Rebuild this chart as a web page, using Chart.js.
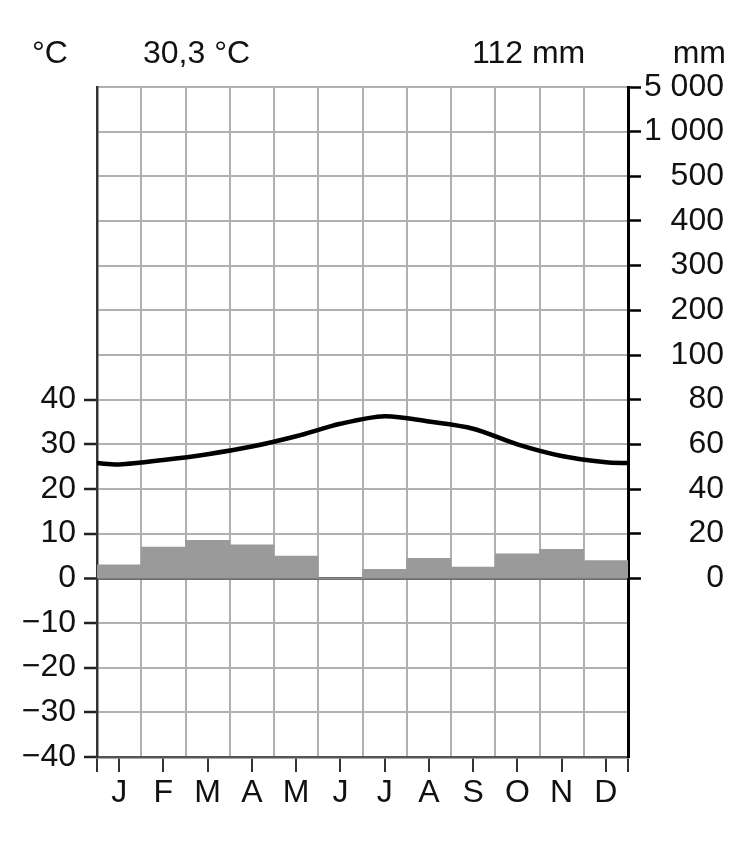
<!DOCTYPE html>
<html>
<head>
<meta charset="utf-8">
<script src="https://cdn.jsdelivr.net/npm/chart.js@4.4.1/dist/chart.umd.min.js"></script>
<style>
  html, body { margin: 0; padding: 0; background: #fff; }
  #wrap { width: 748px; height: 848px; position: relative; }
</style>
</head>
<body>
<div id="wrap"><canvas id="climate-chart"></canvas></div>
<script>
// climate data
const months = ['J', 'F', 'M', 'A', 'M', 'J', 'J', 'A', 'S', 'O', 'N', 'D'];
const temperature = [25.5, 26.5, 27.8, 29.5, 31.8, 34.6, 36.3, 35.1, 33.5, 30.0, 27.4, 26.0];
const temperatureEdge = 25.8; // value where the curve meets both side axes
const precipitation = [6, 14, 17, 15, 10, 0, 4, 9, 5, 11, 13, 8];
const meanTemperature = '30,3 °C';
const totalPrecipitation = '112 mm';
// right axis: linear up to 100 mm, compressed above
const mmTickLabels = { 120: '200', 140: '300', 160: '400', 180: '500', 200: '1 000', 220: '5 000' };

const GRID = '#b0b0b0';
const INK = '#111';
const FONT = '"Liberation Sans", Arial, sans-serif';

Chart.defaults.font.family = FONT;
Chart.defaults.font.size = 32;
Chart.defaults.color = INK;

// line points at month centres, plus both edges
const linePoints = [{ x: 0, y: temperatureEdge }];
temperature.forEach((t, i) => linePoints.push({ x: i + 0.5, y: t }));
linePoints.push({ x: 12, y: temperatureEdge });

const headerPlugin = {
    id: 'header',
    afterDraw(chart) {
        const ctx = chart.ctx;
        ctx.save();
        ctx.fillStyle = INK;
        ctx.font = '32px ' + FONT;
        ctx.textBaseline = 'alphabetic';
        ctx.textAlign = 'left';
        ctx.fillText('°C', 32, 63);
        ctx.fillText(meanTemperature, 143, 63);
        ctx.fillText(totalPrecipitation, 472, 63);
        ctx.textAlign = 'right';
        ctx.fillText('mm', 726, 63);
        ctx.restore();
    }
};

const isHalf = v => Math.abs(v % 1 - 0.5) < 1e-6;

new Chart('climate-chart', {
    data: {
        datasets: [{
            type: 'line',
            label: 'Temperatur',
            data: linePoints,
            xAxisID: 'x',
            yAxisID: 'y',
            borderColor: '#000',
            borderWidth: 4.5,
            pointRadius: 0,
            tension: 0.3,
            order: 0
        }, {
            type: 'bar',
            label: 'Niederschlag',
            data: precipitation,
            xAxisID: 'xBar',
            yAxisID: 'y2',
            backgroundColor: '#9a9a9a',
            borderWidth: 0,
            grouped: false,
            barPercentage: 1,
            categoryPercentage: 1,
            order: 1
        }]
    },
    options: {
        responsive: true,
        maintainAspectRatio: false,
        animation: false,
        layout: { padding: { top: 87, left: 0, right: 24, bottom: 0 } },
        plugins: { legend: { display: false }, tooltip: { enabled: false } },
        scales: {
            x: {
                type: 'linear',
                position: 'bottom',
                min: 0,
                max: 12,
                afterBuildTicks: scale => {
                    const t = [];
                    for (let i = 0; i <= 24; i++) t.push({ value: i / 2 });
                    scale.ticks = t;
                },
                afterFit: scale => { scale.height = 91; },
                ticks: {
                    autoSkip: false,
                    maxRotation: 0,
                    padding: 2,
                    callback: v => isHalf(v) ? months[Math.floor(v)] : ''
                },
                grid: {
                    lineWidth: 2,
                    tickLength: 15,
                    tickWidth: 2,
                    color: c => (c.tick && !isHalf(c.tick.value) && c.tick.value > 0 && c.tick.value < 12) ? GRID : 'rgba(0,0,0,0)',
                    tickColor: c => (c.tick && (isHalf(c.tick.value) || c.tick.value === 0 || c.tick.value === 12)) ? '#333' : 'rgba(0,0,0,0)'
                },
                border: { color: '#555', width: 2.5 }
            },
            xBar: {
                type: 'category',
                labels: months,
                offset: true,
                display: false
            },
            y: {
                type: 'linear',
                position: 'left',
                min: -40,
                max: 110,
                afterFit: scale => { scale.width = 97; },
                ticks: {
                    stepSize: 10,
                    padding: 8,
                    callback: v => v <= 40 ? String(v).replace('-', '\u2212') : ''
                },
                grid: {
                    lineWidth: c => (c.tick && c.tick.value === 0) ? 3 : 2,
                    tickLength: 13,
                    tickWidth: 2.5,
                    color: c => (c.tick && c.tick.value === 0) ? '#707070' : GRID,
                    tickColor: c => (c.tick && c.tick.value <= 40) ? '#222' : 'rgba(0,0,0,0)'
                },
                border: { color: '#333', width: 2.5 }
            },
            y2: {
                type: 'linear',
                position: 'right',
                min: -80,
                max: 220,
                afterFit: scale => { scale.width = 96; },
                ticks: {
                    stepSize: 20,
                    padding: 4,
                    crossAlign: 'far',
                    callback: v => v < 0 ? '' : (v <= 100 ? String(v) : (mmTickLabels[v] || ''))
                },
                grid: {
                    drawOnChartArea: false,
                    tickLength: 13,
                    tickWidth: 2.5,
                    tickColor: c => (c.tick && c.tick.value >= 0) ? '#000' : 'rgba(0,0,0,0)'
                },
                border: { color: '#000', width: 3 }
            }
        }
    },
    plugins: [headerPlugin]
});
</script>
</body>
</html>
